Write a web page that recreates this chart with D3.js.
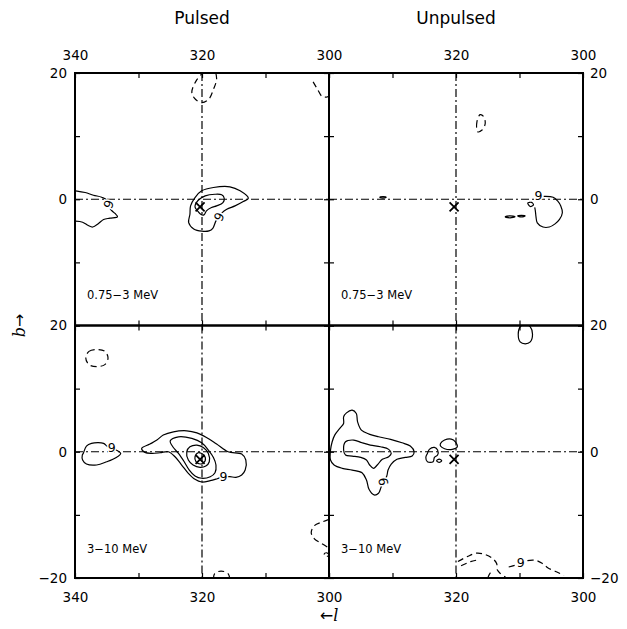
<!DOCTYPE html>
<html>
<head>
<meta charset="utf-8">
<script src="https://d3js.org/d3.v7.min.js"></script>
<style>
body { margin: 0; background: #fff; }
text { font-family: "DejaVu Sans", "Liberation Sans", sans-serif; fill: #000; }
.tick text { font-size: 13.5px; }
</style>
</head>
<body>
<script>
// column titles, energy bands and axis ticks
var columnTitles = ["Pulsed", "Unpulsed"];
var bandLabels = ["0.75\u22123 MeV", "3\u221210 MeV"];
var lTicks = [340, 330, 320, 310, 300];
var bTicks = [20, 10, 0, -10, -20];
var source = [320.3, -1.2]; // the X marker (l, b)

// contours: level > 0 solid, level < 0 dashed. pts are [l, b]
var pulsedLow = [
  {level: 9, closed: false, pts: [[339.9,1.34],[338.4,1.07],[337.1,0.64],[335.8,0.32],[335.0,-0.11],[334.4,-1.6],[333.7,-2.25],[333.3,-2.78],[334.5,-3.0],[335.5,-3.2],[336.3,-3.85],[337.2,-4.4],[337.9,-4.17],[338.8,-3.64],[339.9,-3.48]]},
  {level: 9, closed: true, pts: [[321.1,0.27],[320.05,1.33],[318.2,1.86],[315.6,1.97],[314.0,1.33],[312.7,0.16],[313.5,-0.37],[314.8,-1.05],[316.1,-1.59],[316.9,-2.2],[317.8,-3.43],[318.3,-4.6],[318.9,-5.0],[320,-5.05],[321.3,-4.7],[322.1,-3.7],[321.9,-2.38],[321.8,-1.05]]},
  {level: 12, closed: true, pts: [[321.1,-1.21],[320.6,-0.16],[319.5,0.54],[317.95,0.79],[316.9,0.7],[316.5,0.16],[316.7,-0.52],[317.7,-1.05],[318.5,-1.32],[319.3,-1.84],[319.7,-2.48],[320.2,-2.38],[320.7,-1.84]]},
  {level: -9, closed: false, pts: [[319.6,20.3],[320.9,18.8],[321.6,16.9],[321.0,15.8],[320.0,15.3],[318.9,15.9],[318.2,17.4],[317.7,19.0],[317.9,20.3]]},
  {level: -9, closed: false, pts: [[302.5,18.6],[301.8,17.4],[301.1,16.3],[300.3,16.2],[299.8,16.6]]}
];
var unpulsedLow = [
  {level: 9, closed: true, pts: [[332.0,0.3],[331.5,0.42],[331.0,0.3],[331.5,0.18]]},
  {level: 9, closed: true, pts: [[312.25,-2.78],[311.5,-2.62],[310.7,-2.78],[311.5,-2.94]]},
  {level: 9, closed: true, pts: [[310.3,-2.67],[309.7,-2.55],[309.1,-2.67],[309.7,-2.8]]},
  {level: 9, closed: true, pts: [[308.7,-0.6],[308.1,-0.5],[307.8,-0.9],[308.3,-1.15]]},
  {level: 9, closed: false, pts: [[306.2,0.45],[304.7,0.32],[304.0,-0.27],[303.5,-1.07],[303.25,-2.14],[303.7,-3.2],[304.4,-3.9],[305.3,-4.4],[306.3,-4.4],[307.2,-3.74],[307.4,-2.78],[307.5,-1.87],[307.6,-1.3]]},
  {level: -9, closed: true, pts: [[316.2,13.4],[316.7,12.3],[316.6,10.7],[315.9,10.96],[315.4,12.0],[315.65,13.1]]}
];
var pulsedHigh = [
  {level: 9, closed: true, pts: [[338.7,-0.26],[338.2,0.9],[337.4,1.33],[335.5,1.33],[335.0,0.9],[333.3,0.16],[332.8,-0.26],[333.5,-0.9],[335.0,-1.58],[336.6,-2.1],[338.2,-1.94],[338.8,-1.31],[338.85,-0.52]]},
  {level: 9, closed: true, pts: [[329.5,0.53],[328.2,1.22],[327.1,1.85],[326.1,2.64],[324.5,3.16],[322.4,3.32],[320.8,3.0],[319.3,2.27],[317.7,1.22],[315.9,0],[313.75,-0.36],[313.1,-1.31],[313.2,-2.9],[313.75,-3.68],[314.65,-4.05],[315.6,-3.95],[316.6,-3.95],[317.6,-4.27],[318.7,-4.58],[320.05,-4.79],[321.1,-4.37],[322.15,-3.42],[323.2,-2.1],[324.25,-0.79],[325.3,0],[326.6,-0.16],[327.9,-0.26],[329.0,-0.1]]},
  {level: 12, closed: true, pts: [[325.0,1.74],[323.7,2.37],[321.6,2.11],[320.05,1.42],[319.0,0.27],[318.2,-0.9],[317.8,-2.1],[317.95,-3.32],[318.7,-3.95],[320.05,-4.2],[321.1,-3.84],[322.0,-2.9],[322.8,-1.58],[323.7,-0.26],[324.6,0.79]]},
  {level: 15, closed: true, pts: [[322.4,0],[321.9,0.79],[320.8,1.06],[319.8,0.69],[319.0,-0.26],[318.85,-1.58],[319.4,-2.26],[320.3,-2.47],[321.4,-2.1],[322.15,-1.31]]},
  {level: 18, closed: true, pts: [[321.1,-0.79],[320.6,-0.16],[319.7,-0.52],[319.5,-1.42],[320.2,-1.94],[320.95,-1.58]]},
  {level: -9, closed: true, pts: [[338.3,14.85],[337.8,15.9],[336.6,16.2],[335.3,15.9],[334.8,14.85],[335.3,13.8],[336.6,13.5],[337.8,13.8]]},
  {level: -9, closed: false, pts: [[300.0,-10.7],[301.0,-11.1],[302.3,-11.7],[302.8,-12.8],[302.3,-13.8],[301.2,-14.5],[300.1,-15.2]]},
  {level: -9, closed: true, pts: [[300.8,-16.3],[300.4,-16.0],[300.0,-16.3],[300.4,-16.6]]},
  {level: -9, closed: false, pts: [[318.2,-20.2],[318.0,-19.3],[317.0,-18.9],[315.9,-19.3],[315.6,-20.2]]}
];
var unpulsedHigh = [
  {level: 9, closed: true, pts: [[339.76,0.27],[339.5,1.58],[339.1,2.64],[338.3,3.7],[337.7,4.48],[337.7,5.53],[337.25,6.16],[336.35,6.59],[335.7,6.06],[335.5,4.74],[334.9,3.43],[333.7,2.8],[332.2,2.37],[330.3,1.96],[328.5,1.42],[327.2,0.9],[326.6,0],[326.9,-0.68],[328.0,-0.9],[329.3,-1.2],[330.2,-1.95],[330.7,-2.9],[330.9,-3.84],[331.4,-4.74],[331.8,-5.62],[332.2,-6.57],[332.9,-6.84],[333.7,-5.94],[334.1,-4.47],[334.8,-3.32],[336.35,-2.9],[337.9,-2.63],[339.2,-2.1],[339.76,-1.31]]},
  {level: 12, closed: true, pts: [[337.4,1.58],[336.1,1.85],[334.8,1.42],[333.5,1.06],[331.9,0.79],[330.6,0.38],[330.2,-0.26],[330.6,-0.79],[331.6,-1.2],[332.4,-2.1],[333.0,-2.63],[333.6,-2.1],[334.1,-1.31],[335.0,-0.9],[336.35,-0.68],[337.4,-0.52],[337.7,0.27]]},
  {level: 9, closed: true, pts: [[322.44,1.32],[321.8,1.85],[320.75,2.0],[320.1,1.58],[319.8,0.79],[320.6,0.38],[321.8,0.48],[322.44,0.9]]},
  {level: 9, closed: true, pts: [[324.5,-0.26],[324.2,0.38],[323.4,0.69],[322.9,0.27],[322.9,-0.52],[323.4,-0.9],[323.6,-1.58],[324.5,-1.58],[324.75,-0.9]]},
  {level: 9, closed: true, pts: [[323.05,-1.42],[322.65,-1.17],[322.25,-1.42],[322.65,-1.67]]},
  {level: 9, closed: true, pts: [[310.2,18.6],[309.9,19.8],[309.1,20.2],[308.3,19.8],[307.95,18.6],[308.3,17.4],[309.1,17.1],[309.9,17.4]]},
  {level: -9, closed: false, pts: [[319.7,-17.4],[318.2,-16.6],[316.7,-16.05],[315.35,-16.3],[314.3,-16.85],[313.6,-17.7],[313.5,-18.7],[313.0,-19.3],[312.2,-19.85]]},
  {level: -9, closed: false, pts: [[319.2,-18.06],[317.7,-17.4],[316.4,-17.1]]},
  {level: -9, closed: false, pts: [[315.0,-20.0],[314.6,-19.2],[314.1,-18.8]]},
  {level: -9, closed: false, pts: [[311.7,-18.26],[310.6,-17.95],[309.8,-17.6],[309.05,-17.3],[307.5,-17.2],[306.4,-17.7],[305.5,-18.4],[304.2,-19.0],[303.0,-19.6]]}
];

// contour level labels: [l, b, rotation]
var pulsedLowLabels = [[334.7,-0.8,-70],[317.3,-2.8,-65]];
var unpulsedLowLabels = [[307.0,0.55,0]];
var pulsedHighLabels = [[334.2,0.7,0],[316.6,-3.95,0]];
var unpulsedHighLabels = [[331.4,-4.74,-100],[309.8,-17.6,0]];

var panels = [
  {row: 0, col: 0, contours: pulsedLow, labels: pulsedLowLabels},
  {row: 0, col: 1, contours: unpulsedLow, labels: unpulsedLowLabels},
  {row: 1, col: 0, contours: pulsedHigh, labels: pulsedHighLabels},
  {row: 1, col: 1, contours: unpulsedHigh, labels: unpulsedHighLabels}
];

var width = 627, height = 629;
var pw = 254, ph = 252.5;
var x0 = 75, y0 = 73;

var svg = d3.select("body").append("svg")
    .attr("width", width)
    .attr("height", height);

svg.append("rect").attr("width", width).attr("height", height).attr("fill", "#fff");

var x = d3.scaleLinear().domain([340, 300]).range([0, pw]);
var y = d3.scaleLinear().domain([20, -20]).range([0, ph]);

var line = d3.line()
    .x(function(d) { return x(d[0]); })
    .y(function(d) { return y(d[1]); });

var defs = svg.append("defs");
defs.append("clipPath").attr("id", "clip")
  .append("rect").attr("width", pw).attr("height", ph);

function fmt(v) { return v < 0 ? "\u2212" + Math.abs(v) : String(v); }

panels.forEach(function(p) {
  var g = svg.append("g")
      .attr("transform", "translate(" + (x0 + p.col * pw) + "," + (y0 + p.row * ph) + ")");
  var plot = g.append("g").attr("clip-path", "url(#clip)");

  // dash-dot guide lines through l=320 and b=0
  plot.append("line")
      .attr("x1", x(320)).attr("x2", x(320)).attr("y1", 0).attr("y2", ph)
      .attr("stroke", "#000").attr("stroke-width", 1.2).attr("stroke-dasharray", "8,3,2,3");
  plot.append("line")
      .attr("x1", 0).attr("x2", pw).attr("y1", y(0)).attr("y2", y(0))
      .attr("stroke", "#000").attr("stroke-width", 1.2).attr("stroke-dasharray", "8,3,2,3");

  plot.selectAll("path.contour")
      .data(p.contours)
    .enter().append("path")
      .attr("class", "contour")
      .attr("d", function(d) {
        return line.curve(d.closed ? d3.curveCatmullRomClosed : d3.curveCatmullRom)(d.pts);
      })
      .attr("fill", "none")
      .attr("stroke", "#000")
      .attr("stroke-width", 1.2)
      .attr("stroke-dasharray", function(d) { return d.level < 0 ? "6,4" : null; });

  plot.selectAll("text.clabel")
      .data(p.labels)
    .enter().append("text")
      .attr("class", "clabel")
      .attr("transform", function(d) { return "translate(" + x(d[0]) + "," + y(d[1]) + ") rotate(" + d[2] + ")"; })
      .attr("text-anchor", "middle")
      .attr("dy", "0.35em")
      .style("font-size", "12.5px")
      .style("stroke", "#fff")
      .style("stroke-width", 3)
      .style("paint-order", "stroke")
      .text("9");

  // source position
  var sx = x(source[0]), sy = y(source[1]), s = 4.5;
  plot.append("path")
      .attr("d", "M" + (sx - s) + "," + (sy - s) + "L" + (sx + s) + "," + (sy + s) +
                 "M" + (sx - s) + "," + (sy + s) + "L" + (sx + s) + "," + (sy - s))
      .attr("stroke", "#000").attr("stroke-width", 1.8).attr("fill", "none");

  g.append("text")
      .attr("x", 12).attr("y", p.row === 0 ? 226 : 227)
      .style("font-size", "11.5px")
      .text(bandLabels[p.row]);

  // axes: inward ticks on all sides
  var showX = function(v) { return (v === 320 || v === 300 || (v === 340 && p.col === 0)) ? String(v) : ""; };
  var showY = function(v) { return (v === 20 || v === 0 || (v === -20 && p.row === 1)) ? fmt(v) : ""; };
  var none = function() { return ""; };

  var axTop = g.append("g")
      .call(d3.axisTop(x).tickValues(lTicks).tickSizeInner(-5).tickSizeOuter(0).tickPadding(13)
        .tickFormat(p.row === 0 ? showX : none));
  var axBottom = g.append("g").attr("transform", "translate(0," + ph + ")")
      .call(d3.axisBottom(x).tickValues(lTicks).tickSizeInner(-5).tickSizeOuter(0).tickPadding(14)
        .tickFormat(p.row === 1 ? showX : none));
  var axLeft = g.append("g")
      .call(d3.axisLeft(y).tickValues(bTicks).tickSizeInner(-5).tickSizeOuter(0).tickPadding(8)
        .tickFormat(p.col === 0 ? showY : none));
  var axRight = g.append("g").attr("transform", "translate(" + pw + ",0)")
      .call(d3.axisRight(y).tickValues(bTicks).tickSizeInner(-5).tickSizeOuter(0).tickPadding(7)
        .tickFormat(p.col === 1 ? showY : none));

  [axTop, axBottom, axLeft, axRight].forEach(function(a) {
    a.select(".domain").remove();
    a.selectAll(".tick line").attr("stroke", "#000").attr("stroke-width", 1.2);
    a.selectAll(".tick text").attr("font-family", null).attr("font-size", null);
  });

  g.append("rect")
      .attr("width", pw).attr("height", ph)
      .attr("fill", "none").attr("stroke", "#000").attr("stroke-width", 2);
});

// column titles
svg.selectAll("text.title")
    .data(columnTitles)
  .enter().append("text")
    .attr("class", "title")
    .attr("x", function(d, i) { return x0 + i * pw + pw / 2; })
    .attr("y", 24)
    .attr("text-anchor", "middle")
    .style("font-size", "17px")
    .text(function(d) { return d; });

// axis titles
var xt = svg.append("text")
    .attr("x", x0 + pw).attr("y", 621)
    .attr("text-anchor", "middle")
    .style("font-size", "16px");
xt.append("tspan").text("\u2190");
xt.append("tspan").style("font-style", "italic").style("font-family", "'DejaVu Serif', serif").text("l");

var yt = svg.append("text")
    .attr("transform", "translate(25," + (y0 + ph) + ") rotate(-90)")
    .attr("text-anchor", "middle")
    .style("font-size", "16px");
yt.append("tspan").style("font-style", "italic").style("font-family", "'DejaVu Serif', serif").text("b");
yt.append("tspan").text("\u2192");
</script>
</body>
</html>
